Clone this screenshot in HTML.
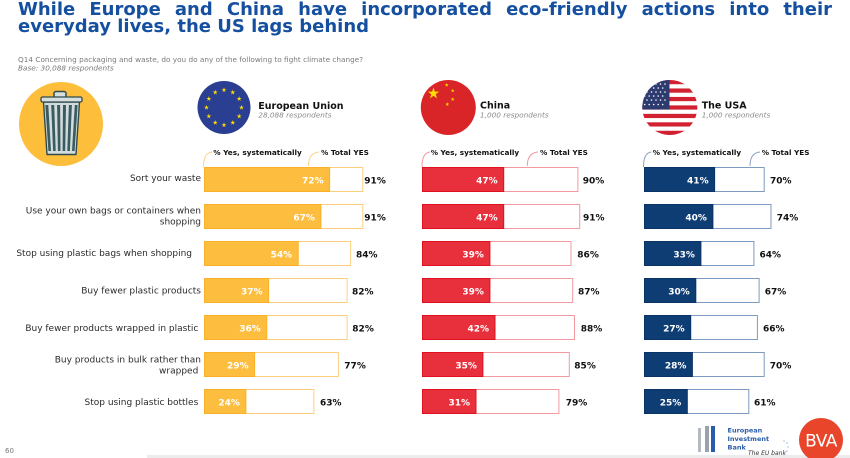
<!DOCTYPE html>
<html>
<head>
<meta charset="utf-8">
<style>
  html, body { margin:0; padding:0; background:#fff; }
  body { width:850px; height:458px; position:relative; overflow:hidden; }
  .title {
    position:absolute; left:18px; top:0.5px; width:814px;
    font-family:"DejaVu Sans","Liberation Sans",sans-serif; font-weight:bold;
    font-size:18px; line-height:17.8px; color:#154f9f; text-align:justify;
  }
  svg { position:absolute; left:0; top:0; }
  text { font-family:"DejaVu Sans","Liberation Sans",sans-serif; }
  .lbl { font-size:9px; fill:#2a2a2a; text-anchor:end; }
  .in { font-size:9px; font-weight:bold; fill:#fff; text-anchor:end; }
  .tot { font-size:9px; font-weight:bold; fill:#111; }
  .hdr { font-size:7.3px; font-weight:bold; fill:#111; }
  .cn { font-size:9.5px; font-weight:bold; fill:#111; }
  .resp { font-size:7.3px; font-style:italic; fill:#8a8a8a; }
</style>
</head>
<body>
<div class="title">While Europe and China have incorporated eco-friendly actions into their everyday lives, the US lags behind</div>
<svg width="850" height="458" viewBox="0 0 850 458" xmlns="http://www.w3.org/2000/svg">
  <defs>
    <polygon id="star" points="0,-1 0.2245,-0.309 0.951,-0.309 0.3633,0.118 0.588,0.809 0,0.382 -0.588,0.809 -0.3633,0.118 -0.951,-0.309 -0.2245,-0.309"/>
    <clipPath id="usclip"><circle cx="669.8" cy="107.5" r="27.5"/></clipPath>
  </defs>

  <!-- subtitle -->
  <text x="18" y="62" style="font-size:7.3px;fill:#7a7a7a">Q14 Concerning packaging and waste, do you do any of the following to fight climate change?</text>
  <text x="18" y="70.5" style="font-size:7.3px;fill:#7a7a7a;font-style:italic">Base: 30,088 respondents</text>

  <!-- trash icon -->
  <circle cx="61" cy="124" r="42" fill="#FDBE3C"/>
  <rect x="54" y="91.5" width="12" height="7" rx="2" fill="#D6DEDE" stroke="#2F4B4E" stroke-width="1.5"/>
  <polygon points="43.5,102 79.5,102 76,154.5 47,154.5" fill="#D3DCDC" stroke="#2F4B4E" stroke-width="1.4" stroke-linejoin="round"/>
  <rect x="41" y="97" width="41" height="5" rx="1.5" fill="#D6DEDE" stroke="#2F4B4E" stroke-width="1.3"/>
  <g fill="#3A5B5F">
    <polygon points="45.3,105 48.3,105 51,151 48.4,151"/>
    <polygon points="51.2,105 54.2,105 55.7,151 53.1,151"/>
    <polygon points="57.1,105 60.1,105 60.5,151 57.9,151"/>
    <polygon points="63,105 66,105 65.2,151 62.6,151"/>
    <polygon points="68.9,105 71.9,105 69.9,151 67.3,151"/>
    <polygon points="74.8,105 77.6,105 74.6,151 72,151"/>
  </g>

  <!-- EU flag -->
  <circle cx="224" cy="107.5" r="26.5" fill="#2A3E92"/>
  <g fill="#FFDD00">
    <use href="#star" transform="translate(224,90) scale(2.6)"/>
    <use href="#star" transform="translate(232.75,92.34) scale(2.6)"/>
    <use href="#star" transform="translate(239.16,98.75) scale(2.6)"/>
    <use href="#star" transform="translate(241.5,107.5) scale(2.6)"/>
    <use href="#star" transform="translate(239.16,116.25) scale(2.6)"/>
    <use href="#star" transform="translate(232.75,122.66) scale(2.6)"/>
    <use href="#star" transform="translate(224,125) scale(2.6)"/>
    <use href="#star" transform="translate(215.25,122.66) scale(2.6)"/>
    <use href="#star" transform="translate(208.84,116.25) scale(2.6)"/>
    <use href="#star" transform="translate(206.5,107.5) scale(2.6)"/>
    <use href="#star" transform="translate(208.84,98.75) scale(2.6)"/>
    <use href="#star" transform="translate(215.25,92.34) scale(2.6)"/>
  </g>
  <text x="258.3" y="109" class="cn">European Union</text>
  <text x="258.3" y="117.5" class="resp">28,088 respondents</text>

  <!-- China flag -->
  <circle cx="448.3" cy="107.5" r="27.5" fill="#DA2528"/>
  <g fill="#FFDE00">
    <use href="#star" transform="translate(433.5,93.5) scale(6)"/>
    <use href="#star" transform="translate(446.7,85) scale(2)"/>
    <use href="#star" transform="translate(452.7,90.7) scale(2)"/>
    <use href="#star" transform="translate(452.7,99.3) scale(2)"/>
    <use href="#star" transform="translate(447.3,104.3) scale(2)"/>
  </g>
  <text x="480" y="108.7" class="cn">China</text>
  <text x="480" y="117.3" class="resp">1,000 respondents</text>

  <!-- USA flag -->
  <g clip-path="url(#usclip)">
    <rect x="640" y="78" width="60" height="60" fill="#fff"/>
    <g fill="#D22232">
      <rect x="640" y="80" width="60" height="4.23"/>
      <rect x="640" y="88.46" width="60" height="4.23"/>
      <rect x="640" y="96.92" width="60" height="4.23"/>
      <rect x="640" y="105.38" width="60" height="4.23"/>
      <rect x="640" y="113.84" width="60" height="4.23"/>
      <rect x="640" y="122.3" width="60" height="4.23"/>
      <rect x="640" y="130.76" width="60" height="6"/>
    </g>
    <rect x="640" y="78" width="29.5" height="31.5" fill="#2E3B6F"/>
    <g fill="#fff">
      <circle cx="647" cy="84" r="0.8"/><circle cx="651.5" cy="84" r="0.8"/><circle cx="656" cy="84" r="0.8"/><circle cx="660.5" cy="84" r="0.8"/><circle cx="665" cy="84" r="0.8"/>
      <circle cx="649.2" cy="88" r="0.8"/><circle cx="653.7" cy="88" r="0.8"/><circle cx="658.2" cy="88" r="0.8"/><circle cx="662.7" cy="88" r="0.8"/>
      <circle cx="645" cy="92" r="0.8"/><circle cx="647" cy="92" r="0.8"/><circle cx="651.5" cy="92" r="0.8"/><circle cx="656" cy="92" r="0.8"/><circle cx="660.5" cy="92" r="0.8"/><circle cx="665" cy="92" r="0.8"/>
      <circle cx="649.2" cy="96" r="0.8"/><circle cx="653.7" cy="96" r="0.8"/><circle cx="658.2" cy="96" r="0.8"/><circle cx="662.7" cy="96" r="0.8"/><circle cx="644.7" cy="96" r="0.8"/>
      <circle cx="647" cy="100" r="0.8"/><circle cx="651.5" cy="100" r="0.8"/><circle cx="656" cy="100" r="0.8"/><circle cx="660.5" cy="100" r="0.8"/><circle cx="665" cy="100" r="0.8"/>
      <circle cx="649.2" cy="104.5" r="0.8"/><circle cx="653.7" cy="104.5" r="0.8"/><circle cx="658.2" cy="104.5" r="0.8"/><circle cx="662.7" cy="104.5" r="0.8"/><circle cx="644.7" cy="104.5" r="0.8"/>
    </g>
  </g>
  <text x="701.7" y="108.7" class="cn">The USA</text>
  <text x="701.7" y="117.3" class="resp">1,000 respondents</text>

  <!-- column headers -->
  <g fill="none" stroke-width="1">
    <path d="M203.5,167 C203.5,158 206,152.5 212,152" stroke="#FBD38B"/>
    <path d="M308.5,166 C308.5,157 312,152.5 319,152" stroke="#FBD38B"/>
    <path d="M422,167 C422,158 424.5,152.5 430,152" stroke="#F19AA0"/>
    <path d="M527.3,166 C527.3,157 531,152.5 538,152" stroke="#F19AA0"/>
    <path d="M643.5,167 C643.5,158 646,152.5 651.5,152" stroke="#8AA3C3"/>
    <path d="M750,166 C750,157 753.5,152.5 760,152" stroke="#8AA3C3"/>
  </g>
  <text x="213.3" y="155" class="hdr">% Yes, systematically</text>
  <text x="321" y="155" class="hdr">% Total YES</text>
  <text x="430.7" y="155" class="hdr">% Yes, systematically</text>
  <text x="540" y="155" class="hdr">% Total YES</text>
  <text x="652.7" y="155" class="hdr">% Yes, systematically</text>
  <text x="761.7" y="155" class="hdr">% Total YES</text>

  <!-- row labels -->
  <text x="201" y="181" class="lbl">Sort your waste</text>
  <text x="201" y="213.5" class="lbl">Use your own bags or containers when</text>
  <text x="201" y="224.5" class="lbl">shopping</text>
  <text x="192" y="256" class="lbl">Stop using plastic bags when shopping</text>
  <text x="201" y="293.5" class="lbl">Buy fewer plastic products</text>
  <text x="198.3" y="330.8" class="lbl">Buy fewer products wrapped in plastic</text>
  <text x="201" y="362.5" class="lbl">Buy products in bulk rather than</text>
  <text x="198.3" y="373.5" class="lbl">wrapped</text>
  <text x="198.3" y="405" class="lbl">Stop using plastic bottles</text>

  <!-- EU bars -->
  <g>
    <g fill="#fff" stroke="#FCCF7F" stroke-width="1">
      <rect x="204.5" y="167.5" width="158.3" height="24"/>
      <rect x="204.5" y="204.5" width="158.3" height="24"/>
      <rect x="204.5" y="241.5" width="146.1" height="24"/>
      <rect x="204.5" y="278.5" width="142.6" height="24"/>
      <rect x="204.5" y="315.5" width="142.6" height="24"/>
      <rect x="204.5" y="352.5" width="133.9" height="24"/>
      <rect x="204.5" y="389.5" width="109.4" height="24"/>
    </g>
    <g fill="#FDBD3F" stroke="#F9B12A" stroke-width="1">
      <rect x="204.5" y="167.5" width="125.1" height="24"/>
      <rect x="204.5" y="204.5" width="116.4" height="24"/>
      <rect x="204.5" y="241.5" width="93.7" height="24"/>
      <rect x="204.5" y="278.5" width="64.1" height="24"/>
      <rect x="204.5" y="315.5" width="62.3" height="24"/>
      <rect x="204.5" y="352.5" width="50.1" height="24"/>
      <rect x="204.5" y="389.5" width="41.4" height="24"/>
    </g>
    <text x="323.6" y="183.3" class="in">72%</text>
    <text x="314.9" y="220.3" class="in">67%</text>
    <text x="292.2" y="257.3" class="in">54%</text>
    <text x="262.6" y="294.3" class="in">37%</text>
    <text x="260.8" y="331.3" class="in">36%</text>
    <text x="248.6" y="368.3" class="in">29%</text>
    <text x="239.9" y="405.3" class="in">24%</text>
    <text x="364.3" y="183.3" class="tot">91%</text>
    <text x="364.3" y="220.3" class="tot">91%</text>
    <text x="356" y="257.3" class="tot">84%</text>
    <text x="352" y="294.3" class="tot">82%</text>
    <text x="352.3" y="331.3" class="tot">82%</text>
    <text x="344.3" y="368.3" class="tot">77%</text>
    <text x="320" y="405.3" class="tot">63%</text>
  </g>

  <!-- China bars -->
  <g>
    <g fill="#fff" stroke="#F29AA0" stroke-width="1">
      <rect x="422.5" y="167.5" width="155.4" height="24"/>
      <rect x="422.5" y="204.5" width="157.2" height="24"/>
      <rect x="422.5" y="241.5" width="148.5" height="24"/>
      <rect x="422.5" y="278.5" width="150.2" height="24"/>
      <rect x="422.5" y="315.5" width="152" height="24"/>
      <rect x="422.5" y="352.5" width="146.8" height="24"/>
      <rect x="422.5" y="389.5" width="136.4" height="24"/>
    </g>
    <g fill="#E7303C" stroke="#E0101E" stroke-width="1">
      <rect x="422.5" y="167.5" width="81.2" height="24"/>
      <rect x="422.5" y="204.5" width="81.2" height="24"/>
      <rect x="422.5" y="241.5" width="67.4" height="24"/>
      <rect x="422.5" y="278.5" width="67.4" height="24"/>
      <rect x="422.5" y="315.5" width="72.5" height="24"/>
      <rect x="422.5" y="352.5" width="60.4" height="24"/>
      <rect x="422.5" y="389.5" width="53.5" height="24"/>
    </g>
    <text x="497.7" y="183.3" class="in">47%</text>
    <text x="497.7" y="220.3" class="in">47%</text>
    <text x="483.9" y="257.3" class="in">39%</text>
    <text x="483.9" y="294.3" class="in">39%</text>
    <text x="489" y="331.3" class="in">42%</text>
    <text x="476.9" y="368.3" class="in">35%</text>
    <text x="470" y="405.3" class="in">31%</text>
    <text x="582.7" y="183.3" class="tot">90%</text>
    <text x="583" y="220.3" class="tot">91%</text>
    <text x="577.3" y="257.3" class="tot">86%</text>
    <text x="578" y="294.3" class="tot">87%</text>
    <text x="580.7" y="331.3" class="tot">88%</text>
    <text x="574.3" y="368.3" class="tot">85%</text>
    <text x="565.7" y="405.3" class="tot">79%</text>
  </g>

  <!-- USA bars -->
  <g>
    <g fill="#fff" stroke="#7D9AC0" stroke-width="1">
      <rect x="644.5" y="167.5" width="119.7" height="24"/>
      <rect x="644.5" y="204.5" width="126.5" height="24"/>
      <rect x="644.5" y="241.5" width="109.4" height="24"/>
      <rect x="644.5" y="278.5" width="114.6" height="24"/>
      <rect x="644.5" y="315.5" width="112.9" height="24"/>
      <rect x="644.5" y="352.5" width="119.7" height="24"/>
      <rect x="644.5" y="389.5" width="104.3" height="24"/>
    </g>
    <g fill="#0E3D74" stroke="#0A3366" stroke-width="1">
      <rect x="644.5" y="167.5" width="70.1" height="24"/>
      <rect x="644.5" y="204.5" width="68.4" height="24"/>
      <rect x="644.5" y="241.5" width="56.4" height="24"/>
      <rect x="644.5" y="278.5" width="51.3" height="24"/>
      <rect x="644.5" y="315.5" width="46.2" height="24"/>
      <rect x="644.5" y="352.5" width="47.9" height="24"/>
      <rect x="644.5" y="389.5" width="42.8" height="24"/>
    </g>
    <text x="708.6" y="183.3" class="in">41%</text>
    <text x="706.9" y="220.3" class="in">40%</text>
    <text x="694.9" y="257.3" class="in">33%</text>
    <text x="689.8" y="294.3" class="in">30%</text>
    <text x="684.7" y="331.3" class="in">27%</text>
    <text x="686.4" y="368.3" class="in">28%</text>
    <text x="681.3" y="405.3" class="in">25%</text>
    <text x="770" y="183.3" class="tot">70%</text>
    <text x="776.7" y="220.3" class="tot">74%</text>
    <text x="759.5" y="257.3" class="tot">64%</text>
    <text x="764.7" y="294.3" class="tot">67%</text>
    <text x="763" y="331.3" class="tot">66%</text>
    <text x="769.8" y="368.3" class="tot">70%</text>
    <text x="754" y="405.3" class="tot">61%</text>
  </g>

  <!-- footer -->
  <rect x="147" y="455" width="703" height="3" fill="#ececec"/>
  <text x="5" y="453" style="font-size:7px;fill:#777">60</text>

  <!-- EIB logo -->
  <rect x="698" y="428" width="3" height="24" fill="#B4BAC2"/>
  <rect x="705" y="426" width="4" height="26" fill="#9AA3AD"/>
  <rect x="711" y="426" width="4" height="26" fill="#2A5CAA"/>
  <text x="727.5" y="432.5" style="font-size:6.5px;font-weight:bold;fill:#2A5CAA">European</text>
  <text x="727.5" y="441" style="font-size:6.5px;font-weight:bold;fill:#2A5CAA">Investment</text>
  <text x="727.5" y="449.5" style="font-size:6.5px;font-weight:bold;fill:#2A5CAA">Bank</text>
  <text x="748" y="455" style="font-size:6px;font-style:italic;fill:#333">The EU bank</text>
  <g fill="#2A5CAA">
    <circle cx="784" cy="441" r="0.5"/><circle cx="787" cy="443" r="0.5"/><circle cx="788" cy="447" r="0.5"/><circle cx="787" cy="451" r="0.5"/><circle cx="784" cy="453" r="0.5"/>
  </g>

  <!-- BVA logo -->
  <circle cx="821" cy="440" r="22" fill="#E9452B"/>
  <text x="821" y="446.5" text-anchor="middle" style="font-size:17px;fill:#fff;letter-spacing:-0.5px">BVA</text>
</svg>
</body>
</html>
